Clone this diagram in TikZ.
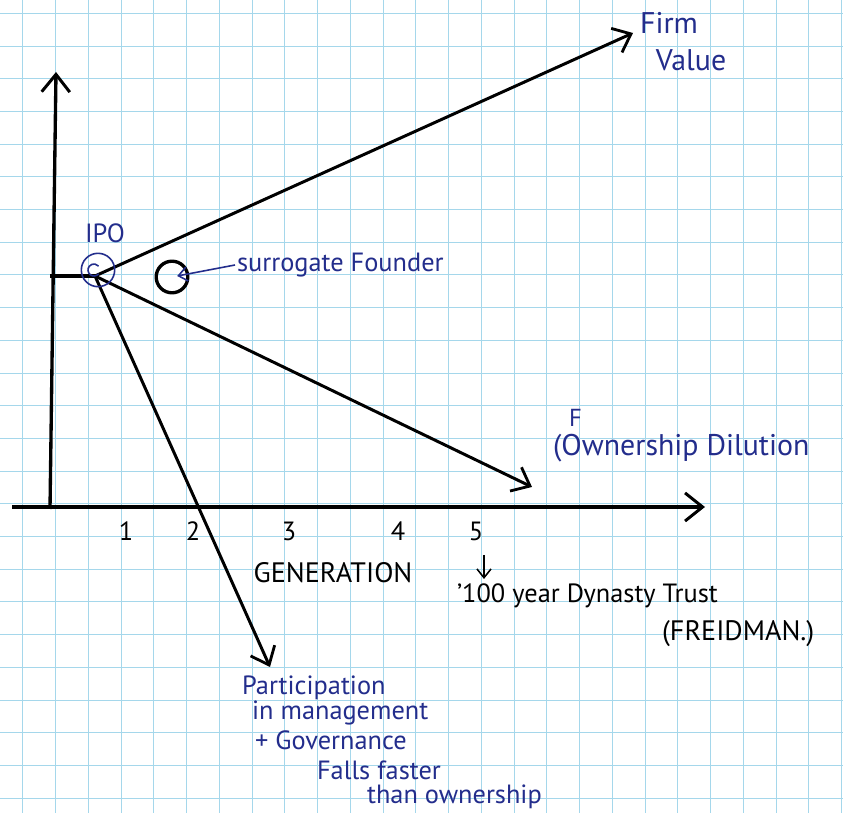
\documentclass[tikz,border=0pt]{standalone}
\usepackage{fontspec}
\setmainfont{PT Sans}
\usetikzlibrary{arrows.meta, positioning}

\definecolor{inkblue}{RGB}{35,45,140}
\definecolor{gridblue}{RGB}{165,215,235}

\begin{document}
\begin{tikzpicture}[x=0.02cm, y=-0.02cm,
    gridline/.style={gridblue, line width=0.5pt},
    axis/.style={line width=1.9pt, -{Straight Barb[length=10pt, width=16pt, line width=1.7pt]}},
    trend/.style={line width=1.7pt, -{Straight Barb[length=9pt, width=15pt, line width=1.6pt]}},
    pointer/.style={line width=0.9pt, -{Straight Barb[length=5pt, width=8pt]}},
    hand/.style={text=inkblue, font=\fontsize{15}{18}\selectfont, inner sep=1pt},
    tick/.style={font=\fontsize{15}{18}\selectfont, inner sep=1pt}]

% paper
\fill[white] (0,0) rectangle (843,813);
\useasboundingbox (0,0) rectangle (843,813);
\foreach \i in {0,...,25}
  \draw[gridline] ({22.7+32.75*\i},0) -- ({22.7+32.75*\i},813);
\foreach \j in {0,...,24}
  \draw[gridline] (0,{13.3+32.7*\j}) -- (843,{13.3+32.7*\j});

% points
\coordinate (xstart) at (12,507);
\coordinate (xend) at (705,507);
\coordinate (ybase) at (50,509);
\coordinate (yend) at (56,72);
\coordinate (stub) at (50,276);
\coordinate (ipo) at (95,276);
\coordinate (valueend) at (633,33);
\coordinate (dilutionend) at (532,487);
\coordinate (partend) at (270,667);

% axes
\draw[axis] (xstart) -- (xend);
\draw[axis] (ybase) -- (yend);
\draw[line width=1.9pt] (stub) -- (ipo);

% lines from the IPO
\draw[trend] (ipo) -- (valueend);
\draw[trend] (ipo) -- (dilutionend);
\draw[trend] (ipo) -- (partend);

% IPO mark
\node[draw=inkblue, circle, line width=0.9pt, minimum size=19pt, inner sep=0pt] (iporing) at (98,270) {};
\draw[inkblue, line width=0.9pt] (94,270) ++(40:6) arc[start angle=40, end angle=320, radius=6];
\node[hand] (ipolabel) at (105,233) {IPO};

% surrogate founder
\node[draw, circle, line width=1.9pt, minimum size=18pt, inner sep=0pt] (founder) at (172,277) {};
\node[hand, anchor=west] (surrogate) at (235,265) {surrogate Founder};
\draw[pointer, inkblue, shorten >=3pt] (surrogate.west) -- (founder.center);

% line labels
\node[hand, anchor=west, align=left, font=\fontsize{17}{21}\selectfont] (firmvalue) at (638,42)
  {Firm\\\hspace{9pt}Value};
\node[hand, anchor=west, font=\fontsize{17}{20}\selectfont] (dilution) at (551,448) {(Ownership Dilution};
\node[hand, anchor=south, inner sep=0pt, font=\fontsize{14}{16}\selectfont] (dilutionF)
  at ([xshift=14pt, yshift=3pt]dilution.north west) {F};

% generations
\foreach \n/\x in {1/126, 2/193, 3/289, 4/398, 5/476}
  \node[tick] (t\n) at (\x,531) {\n};
\node[tick, font=\fontsize{16}{19}\selectfont] (generation) at (333,573) {GENERATION};

\coordinate (fromfive) at (484,555);
\coordinate (tofive) at (484,579);
\draw[pointer] (fromfive) -- (tofive);
\node[tick, anchor=west] (dynasty) at (455,596) {'100 year Dynasty Trust};
\node[tick, anchor=west, font=\fontsize{16}{19}\selectfont] (freidman) at (660,634) {(FREIDMAN.)};

% participation note
\node[hand, anchor=west] (part1) at (240,688) {Participation};
\node[hand, anchor=west] (part2) at (250,713) {in management};
\node[hand, anchor=west] (part3) at (253,740) {+ Governance};
\node[hand, anchor=west] (part4) at (315,770) {Falls faster};
\node[hand, anchor=west] (part5) at (365,797) {than ownership};

\end{tikzpicture}
\end{document}
